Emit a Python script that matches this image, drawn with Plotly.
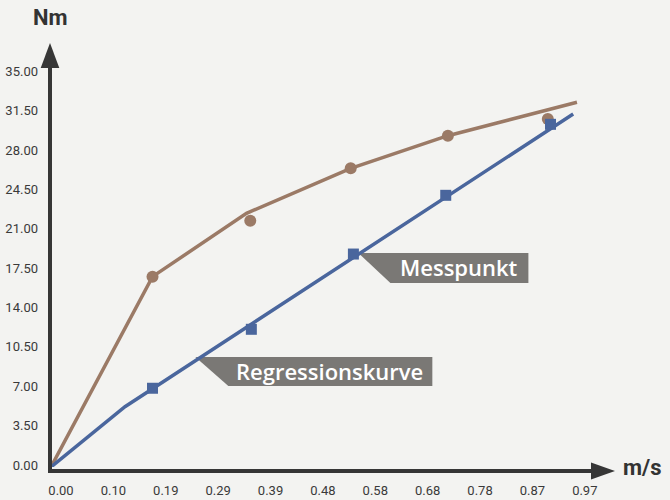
import plotly.graph_objects as go

# ---- data ----
curve_x = [0, 0.188, 0.362, 0.555, 0.735, 0.974]
curve_y = [0, 16.92, 22.55, 26.55, 29.45, 32.42]
curve_pts_x = [0.188, 0.369, 0.555, 0.735, 0.920]
curve_pts_y = [16.92, 21.89, 26.55, 29.45, 30.93]

reg_x = [0, 0.137, 0.967]
reg_y = [0, 5.36, 31.38]
mess_x = [0.188, 0.371, 0.560, 0.731, 0.925]
mess_y = [7.00, 12.24, 18.93, 24.15, 30.46]

x_tickvals = [0, 0.097, 0.194, 0.291, 0.388, 0.485, 0.582, 0.679, 0.776, 0.873, 0.97]
x_ticktext = ["0.00", "0.10", "0.19", "0.29", "0.39", "0.48", "0.58", "0.68", "0.78", "0.87", "0.97"]
y_tickvals = [0, 3.5, 7, 10.5, 14, 17.5, 21, 24.5, 28, 31.5, 35]
y_ticktext = ["0.00", "3.50", "7.00", "10.50", "14.00", "17.50", "21.00", "24.50", "28.00", "31.50", "35.00"]

x_title = "m/s"
y_title = "Nm"
label_point = "Messpunkt"
label_curve = "Regressionskurve"

# ---- style ----
BG = "#f3f3f1"
BROWN = "#9b7a66"
BLUE = "#4a669d"
AXIS = "#363636"
CALLOUT = "#7a7875"
W, H = 670, 500
ML, MR, MT, MB = 51, 79, 17, 33
PW, PH = W - ML - MR, H - MT - MB


def px(x, y):
    """pixel (from top-left) -> paper coords"""
    return (x - ML) / PW, (H - MB - y) / PH


def path_px(points):
    segs = []
    for i, (x, y) in enumerate(points):
        a, b = px(x, y)
        segs.append(("M" if i == 0 else "L") + f"{a:.5f},{b:.5f}")
    return " ".join(segs) + " Z"


fig = go.Figure()
fig.add_trace(go.Scatter(x=curve_x, y=curve_y, mode="lines",
                         line=dict(color=BROWN, width=3.5), cliponaxis=False,
                         hoverinfo="skip"))
fig.add_trace(go.Scatter(x=curve_pts_x, y=curve_pts_y, mode="markers",
                         marker=dict(color=BROWN, size=12, symbol="circle"),
                         cliponaxis=False))
fig.add_trace(go.Scatter(x=reg_x, y=reg_y, mode="lines",
                         line=dict(color=BLUE, width=3.5), cliponaxis=False,
                         hoverinfo="skip"))
fig.add_trace(go.Scatter(x=mess_x, y=mess_y, mode="markers",
                         marker=dict(color=BLUE, size=11, symbol="square"),
                         cliponaxis=False))

shapes = []
# axes with arrows
x0, y0 = px(50, 471)
x1, y1 = px(50, 66)
shapes.append(dict(type="line", xref="paper", yref="paper", x0=x0, y0=y0, x1=x1, y1=y1,
                   line=dict(color=AXIS, width=4)))
shapes.append(dict(type="path", xref="paper", yref="paper",
                   path=path_px([(50, 43), (59.3, 68), (40.7, 68)]),
                   fillcolor=AXIS, line=dict(width=0)))
x0, y0 = px(48, 471)
x1, y1 = px(594, 471)
shapes.append(dict(type="line", xref="paper", yref="paper", x0=x0, y0=y0, x1=x1, y1=y1,
                   line=dict(color=AXIS, width=4)))
shapes.append(dict(type="path", xref="paper", yref="paper",
                   path=path_px([(615, 471), (591, 479.5), (591, 462.5)]),
                   fillcolor=AXIS, line=dict(width=0)))

# callouts anchored to data points (pixel offsets, y up)
def callout(ax, ay, pts):
    p = " ".join(("M" if i == 0 else "L") + f"{x},{y}" for i, (x, y) in enumerate(pts)) + " Z"
    return dict(type="path", xref="x", yref="y", xsizemode="pixel", ysizemode="pixel",
                xanchor=ax, yanchor=ay, path=p, fillcolor=CALLOUT, line=dict(width=0),
                layer="below")

shapes.append(callout(mess_x[2], mess_y[2],
                      [(5, 1), (175, 1), (175, -29), (37, -29)]))
shapes.append(callout(mess_x[1], mess_y[1],
                      [(-56, -27.7), (181, -27.7), (181, -56.7), (-23, -56.7)]))

CALLOUT_FONT = dict(family="Open Sans", size=22, color="white", weight=600)
annotations = [
    dict(x=mess_x[2], y=mess_y[2], xref="x", yref="y", text=label_point, showarrow=False,
         xshift=106, yshift=-13, xanchor="center", yanchor="middle", font=CALLOUT_FONT),
    dict(x=mess_x[1], y=mess_y[1], xref="x", yref="y", text=label_curve, showarrow=False,
         xshift=78, yshift=-42, xanchor="center", yanchor="middle", font=CALLOUT_FONT),
]
TITLE_FONT = dict(family="Roboto", size=22, color="#333333", weight="bold")
ax_, ay_ = px(50, 17)
annotations.append(dict(x=ax_, y=ay_, xref="paper", yref="paper", text=y_title, showarrow=False,
                        xanchor="center", yanchor="middle", font=TITLE_FONT))
ax_, ay_ = px(642, 467)
annotations.append(dict(x=ax_, y=ay_, xref="paper", yref="paper", text=x_title, showarrow=False,
                        xanchor="center", yanchor="middle", font=TITLE_FONT))

fig.update_layout(
    width=W, height=H,
    margin=dict(l=ML, r=MR, t=MT, b=MB, autoexpand=False),
    paper_bgcolor=BG, plot_bgcolor=BG,
    showlegend=False,
    shapes=shapes, annotations=annotations,
    font=dict(family="Roboto", size=13, color="#3a3a3a"),
)
fig.update_xaxes(range=[0, 1.0], showgrid=False, zeroline=False, showline=False,
                 tickmode="array", tickvals=x_tickvals, ticktext=x_ticktext,
                 ticks="", ticklabelshift=10, ticklabelstandoff=14, automargin=False,
                 fixedrange=True)
fig.update_yaxes(range=[0, 40], showgrid=False, zeroline=False, showline=False,
                 tickmode="array", tickvals=y_tickvals, ticktext=y_ticktext,
                 ticks="", ticklabelshift=-2, ticklabelstandoff=12, automargin=False,
                 fixedrange=True)

fig.write_html("out.html", config={"displayModeBar": False},
               post_script="document.body.style.margin='0';"
                           "document.body.style.background='" + BG + "';"
                           "document.body.style.overflow='hidden';")
